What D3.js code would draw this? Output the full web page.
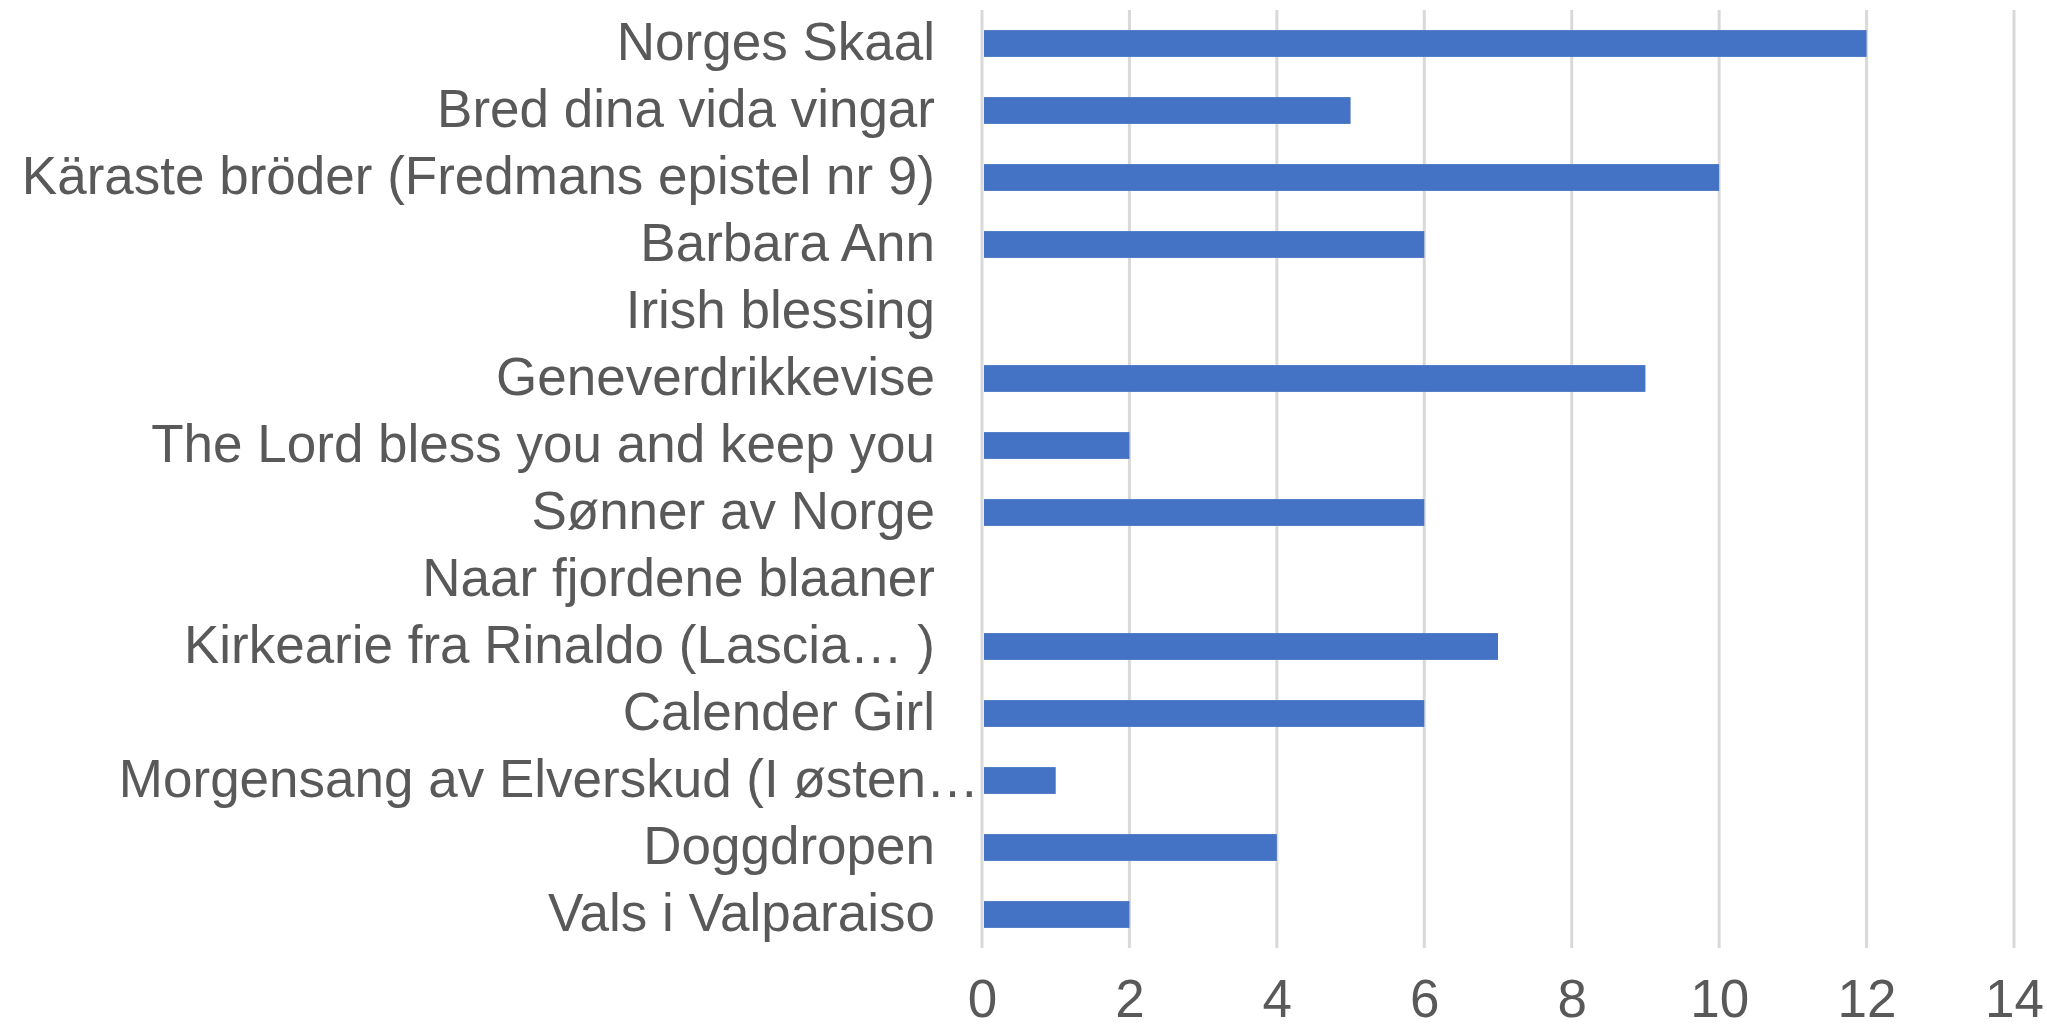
<!DOCTYPE html>
<html>
<head>
<meta charset="utf-8">
<script src="https://cdn.jsdelivr.net/npm/d3@7"></script>
<style>
  html, body { margin: 0; padding: 0; background: #fff; }
  svg { display: block; }
  text { font-family: "Liberation Sans", Arial, sans-serif; fill: #595959; }
</style>
</head>
<body>
<svg id="chart" width="2047" height="1028"></svg>
<script>
// Song titles, top to bottom
const categories = [
  "Norges Skaal",
  "Bred dina vida vingar",
  "Käraste bröder (Fredmans epistel nr 9)",
  "Barbara Ann",
  "Irish blessing",
  "Geneverdrikkevise",
  "The Lord bless you and keep you",
  "Sønner av Norge",
  "Naar fjordene blaaner",
  "Kirkearie fra Rinaldo (Lascia… )",
  "Calender Girl",
  "Morgensang av Elverskud (I østen…",
  "Doggdropen",
  "Vals i Valparaiso"
];
// Number of votes per song
const values = [12, 5, 10, 6, 0, 9, 2, 6, 0, 7, 6, 1, 4, 2];
// Value axis ticks
const xTicks = [0, 2, 4, 6, 8, 10, 12, 14];

const W = 2047, H = 1028;
const margin = { top: 10, right: 33, bottom: 80, left: 982 };
const svg = d3.select("#chart");

const x = d3.scaleLinear()
  .domain([0, 14])
  .range([margin.left, W - margin.right]);

const y = d3.scaleBand()
  .domain(categories)
  .range([margin.top, H - margin.bottom])
  .paddingInner(0.6)
  .paddingOuter(0.3);

// vertical gridlines
svg.append("g")
  .selectAll("line")
  .data(xTicks)
  .join("line")
  .attr("x1", d => x(d)).attr("x2", d => x(d))
  .attr("y1", margin.top).attr("y2", H - margin.bottom)
  .attr("stroke", "#D9D9D9")
  .attr("stroke-width", 3);

// bars
svg.append("g")
  .selectAll("rect")
  .data(values)
  .join("rect")
  .attr("x", x(0) + 2)
  .attr("y", (d, i) => y(categories[i]))
  .attr("height", y.bandwidth())
  .attr("width", d => Math.max(0, x(d) - x(0) - 2))
  .attr("fill", "#4472C4");

// category labels
const fontSize = 53;
const yAxis = d3.axisLeft(y).tickSize(0).tickPadding(47);
const gy = svg.append("g")
  .attr("transform", `translate(${x(0)},0)`)
  .call(yAxis);
gy.select(".domain").remove();
gy.selectAll("text")
  .style("font-size", fontSize + "px")
  .attr("fill", "#595959")
  .style("font-family", '"Liberation Sans", Arial, sans-serif')
  .attr("x", d => d.endsWith("…") ? -3 : -47);

// value axis labels
const xAxis = d3.axisBottom(x).tickValues(xTicks).tickSize(0).tickPadding(31);
const gx = svg.append("g")
  .attr("transform", `translate(0,${H - margin.bottom})`)
  .call(xAxis);
gx.select(".domain").remove();
gx.selectAll("text")
  .style("font-size", fontSize + "px")
  .attr("fill", "#595959")
  .style("font-family", '"Liberation Sans", Arial, sans-serif');
</script>
</body>
</html>
